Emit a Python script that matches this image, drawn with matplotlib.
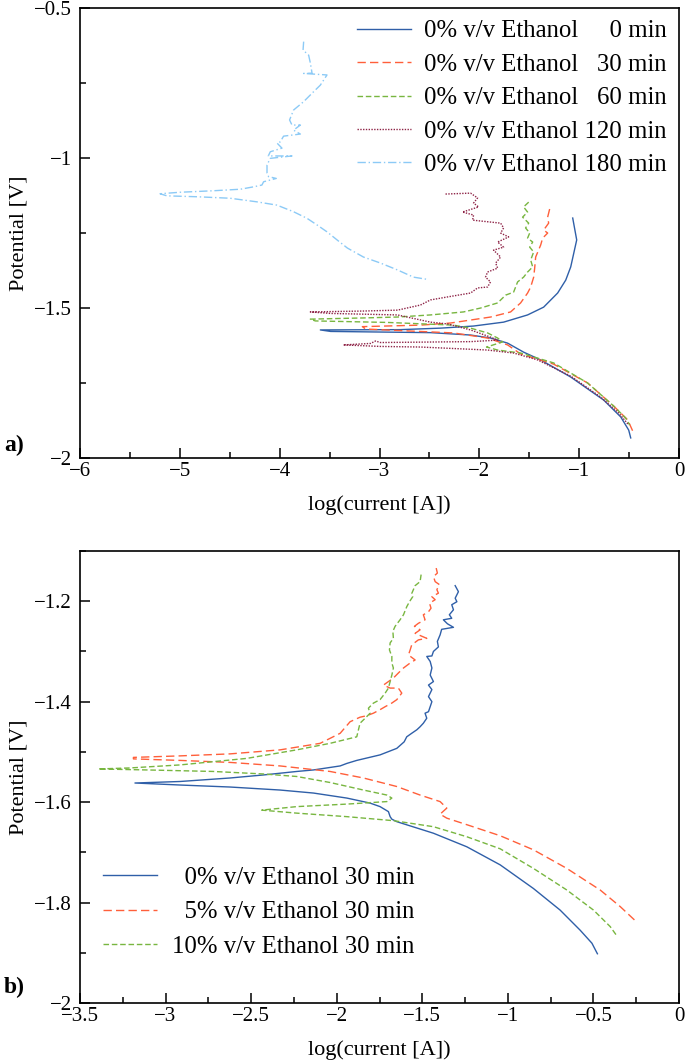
import numpy as np
import matplotlib
matplotlib.use("Agg")
import matplotlib.pyplot as plt
from matplotlib.ticker import MultipleLocator, FuncFormatter

plt.rcParams['font.family'] = ['Liberation Serif', 'DejaVu Serif']

# ---- panel a): 0% v/v ethanol, different immersion times ----
times_a = ['0', '30', '60', '120', '180']

x_a0 = [-1.065, -1.025, -1.085, -1.135, -1.216, -1.356, -1.517, -1.757, -2.058, -2.389, -2.79, -3.593,
        -3.49, -2.49, -2.088, -1.888, -1.717, -1.557, -1.386, -1.085, -0.754, -0.584, -0.504, -0.484]
y_a0 = [-1.200, -1.273, -1.363, -1.407, -1.450, -1.497, -1.523, -1.547, -1.560, -1.567, -1.572, -1.573,
        -1.578, -1.582, -1.590, -1.600, -1.617, -1.647, -1.673, -1.730, -1.807, -1.863, -1.907, -1.933]

x_a30 = [-1.296, -1.316, -1.306, -1.356, -1.316, -1.366, -1.386, -1.436, -1.446, -1.456, -1.486, -1.517,
         -1.587, -1.687, -1.888, -2.088, -2.289, -2.59, -3.172,
         -3.14, -2.259, -1.918, -1.717, -1.587, -1.256, -0.915, -0.654, -0.514, -0.464]
y_a30 = [-1.170, -1.197, -1.217, -1.240, -1.250, -1.267, -1.290, -1.330, -1.367, -1.397, -1.430, -1.450,
         -1.483, -1.513, -1.530, -1.540, -1.550, -1.557, -1.562,
         -1.570, -1.583, -1.600, -1.623, -1.653, -1.687, -1.750, -1.827, -1.873, -1.910]

x_a60 = [-1.506, -1.557, -1.517, -1.567, -1.506, -1.537, -1.496, -1.517, -1.466, -1.496, -1.456, -1.486,
         -1.466, -1.517, -1.557, -1.617, -1.657, -1.737, -1.817, -1.988, -2.159, -2.490, -2.820, -3.161, -3.693,
         -3.643, -2.921, -2.259, -2.088, -1.918, -1.817, -1.767, -1.928, -1.817, -1.587, -1.256, -0.915,
         -0.654, -0.534, -0.494]
y_a60 = [-1.147, -1.163, -1.180, -1.197, -1.217, -1.233, -1.250, -1.267, -1.280, -1.297, -1.313, -1.340,
         -1.363, -1.380, -1.397, -1.413, -1.447, -1.457, -1.483, -1.500, -1.513, -1.523, -1.530, -1.533, -1.537,
         -1.543, -1.548, -1.557, -1.567, -1.583, -1.600, -1.613, -1.630, -1.640, -1.650, -1.683, -1.750,
         -1.827, -1.867, -1.890]

x_a120 = [-2.339, -2.088, -2.018, -2.058, -2.008, -2.169, -2.058, -2.068, -1.787, -1.757, -1.787, -1.707,
          -1.817, -1.757, -1.858, -1.787, -1.837, -1.817, -1.918, -1.938, -1.888, -1.918, -2.018, -2.088,
          -2.319, -2.490, -2.590, -2.820, -3.161, -3.693,
          -3.49, -2.820, -2.490, -2.319, -2.088, -1.888, -1.817,
          -2.088, -2.99, -3.04, -3.09, -3.362,
          -2.99, -2.590, -1.918, -1.657, -1.416, -1.085, -0.784, -0.604, -0.504]
y_a120 = [-1.120, -1.117, -1.133, -1.150, -1.163, -1.180, -1.190, -1.207, -1.217, -1.233, -1.250, -1.263,
          -1.280, -1.297, -1.307, -1.330, -1.350, -1.367, -1.380, -1.397, -1.413, -1.430, -1.433, -1.450,
          -1.463, -1.473, -1.490, -1.507, -1.510, -1.513,
          -1.518, -1.523, -1.547, -1.553, -1.573, -1.597, -1.607,
          -1.612, -1.615, -1.610, -1.618, -1.623,
          -1.628, -1.630, -1.640, -1.650, -1.673, -1.727, -1.797, -1.850, -1.890]

x_a180 = [-3.760, -3.766, -3.710, -3.693, -3.676, -3.760, -3.526, -3.593, -3.676, -3.760, -3.861, -3.901,
          -3.877, -3.793, -3.861, -3.793, -3.961, -3.994, -4.027, -3.977, -4.094, -4.114, -3.877, -4.094,
          -4.127, -4.127, -4.111, -4.034, -4.161, -4.178, -4.262, -4.395, -4.663, -4.997, -5.198,
          -5.130, -4.830, -4.496, -4.228, -4.027, -3.861, -3.726, -3.626, -3.526, -3.425, -3.322, -3.161,
          -2.991, -2.820, -2.660, -2.510]
y_a180 = [-0.612, -0.640, -0.657, -0.683, -0.717, -0.718, -0.723, -0.757, -0.784, -0.812, -0.840, -0.873,
          -0.890, -0.890, -0.907, -0.920, -0.927, -0.946, -0.950, -0.967, -0.979, -0.993, -0.993, -1.001,
          -1.023, -1.050, -1.062, -1.068, -1.079, -1.090, -1.096, -1.104, -1.109, -1.114, -1.119,
          -1.126, -1.129, -1.134, -1.146, -1.157, -1.179, -1.201, -1.223, -1.246, -1.273, -1.300, -1.330,
          -1.350, -1.373, -1.397, -1.405]

# ---- panel b): 30 min, different ethanol contents ----
conc_b = ['0', '5', '10']

x_b0 = [-1.308, -1.289, -1.308, -1.298, -1.328, -1.318, -1.342, -1.328, -1.377, -1.353, -1.318, -1.387,
        -1.396, -1.412, -1.406, -1.435, -1.444, -1.474, -1.454, -1.444, -1.454, -1.435, -1.464, -1.444,
        -1.464, -1.444, -1.454, -1.464, -1.484, -1.474, -1.494, -1.513, -1.532, -1.562, -1.591, -1.606,
        -1.649, -1.747, -1.883, -1.941, -1.980, -2.136, -2.233, -2.429, -2.623, -2.916, -3.179,
        -2.916, -2.623, -2.331, -2.136, -1.941, -1.805, -1.747, -1.698, -1.688, -1.678, -1.649, -1.435,
        -1.240, -1.045, -0.851, -0.695, -0.578, -0.509, -0.477]
y_b0 = [-1.169, -1.181, -1.194, -1.201, -1.207, -1.217, -1.227, -1.234, -1.237, -1.245, -1.252, -1.256,
        -1.267, -1.280, -1.291, -1.300, -1.309, -1.310, -1.320, -1.333, -1.347, -1.360, -1.367, -1.376,
        -1.390, -1.400, -1.410, -1.420, -1.423, -1.433, -1.443, -1.450, -1.456, -1.463, -1.470, -1.480,
        -1.493, -1.506, -1.517, -1.523, -1.528, -1.536, -1.539, -1.546, -1.552, -1.559, -1.562,
        -1.566, -1.570, -1.576, -1.582, -1.592, -1.602, -1.609, -1.619, -1.629, -1.634, -1.639, -1.662,
        -1.689, -1.725, -1.772, -1.815, -1.855, -1.881, -1.902]

x_b5 = [-1.419, -1.412, -1.435, -1.425, -1.400, -1.415, -1.406, -1.444, -1.425, -1.458, -1.449, -1.464,
        -1.494, -1.484, -1.523, -1.546, -1.513, -1.542, -1.474, -1.523, -1.562, -1.571, -1.581, -1.542,
        -1.571, -1.610, -1.640, -1.669, -1.727, -1.688, -1.640, -1.620, -1.649, -1.679, -1.717, -1.747,
        -1.786, -1.825, -1.864, -1.922, -1.980, -2.097, -2.331, -2.623, -2.916, -3.188,
        -3.188, -2.916, -2.623, -2.331, -2.039, -1.844, -1.649, -1.513, -1.396, -1.357, -1.396, -1.357,
        -1.240, -1.045, -0.851, -0.656, -0.461, -0.344, -0.250]
y_b5 = [-1.134, -1.144, -1.151, -1.161, -1.167, -1.177, -1.184, -1.191, -1.197, -1.204, -1.214, -1.221,
        -1.227, -1.237, -1.244, -1.250, -1.257, -1.264, -1.274, -1.277, -1.287, -1.297, -1.307, -1.317,
        -1.323, -1.333, -1.343, -1.353, -1.367, -1.373, -1.373, -1.383, -1.396, -1.403, -1.410, -1.416,
        -1.423, -1.428, -1.431, -1.440, -1.463, -1.483, -1.496, -1.504, -1.508, -1.511,
        -1.514, -1.517, -1.521, -1.528, -1.539, -1.552, -1.569, -1.586, -1.599, -1.612, -1.624, -1.632,
        -1.645, -1.667, -1.695, -1.732, -1.775, -1.808, -1.838]

x_b10 = [-1.507, -1.513, -1.542, -1.561, -1.556, -1.575, -1.591, -1.610, -1.630, -1.659, -1.672, -1.669,
         -1.688, -1.692, -1.678, -1.678, -1.669, -1.678, -1.688, -1.698, -1.717, -1.747, -1.786, -1.815,
         -1.805, -1.834, -1.864, -1.883, -2.039, -2.234, -2.526, -2.916, -3.208, -3.393,
         -3.110, -2.721, -2.429, -2.234, -2.039, -1.844, -1.707, -1.678, -1.707, -1.941, -2.234, -2.438,
         -2.234, -1.941, -1.669, -1.435, -1.240, -1.045, -0.851, -0.656, -0.500, -0.402, -0.360]
y_b10 = [-1.147, -1.161, -1.169, -1.184, -1.191, -1.201, -1.211, -1.227, -1.237, -1.250, -1.260, -1.274,
         -1.283, -1.297, -1.310, -1.323, -1.333, -1.347, -1.360, -1.373, -1.383, -1.396, -1.403, -1.413,
         -1.423, -1.433, -1.443, -1.470, -1.483, -1.496, -1.513, -1.526, -1.532, -1.534,
         -1.536, -1.539, -1.544, -1.549, -1.561, -1.576, -1.586, -1.592, -1.599, -1.604, -1.609, -1.616,
         -1.622, -1.629, -1.637, -1.649, -1.669, -1.693, -1.732, -1.775, -1.815, -1.848, -1.868]

c_blue = '#2f5fa8'
c_orange = '#ff5f3a'
c_green = '#78b640'
c_maroon = '#8e2447'
c_light = '#8ccaf6'


def minus_fmt(v, pos):
    return ('%g' % round(v, 3)).replace('-', '\u2212')


def style_axes(ax, xmaj, xmin, ymaj, ymin):
    ax.xaxis.set_major_locator(MultipleLocator(xmaj))
    ax.xaxis.set_minor_locator(MultipleLocator(xmin))
    ax.yaxis.set_major_locator(MultipleLocator(ymaj))
    ax.yaxis.set_minor_locator(MultipleLocator(ymin))
    ax.xaxis.set_major_formatter(FuncFormatter(minus_fmt))
    ax.yaxis.set_major_formatter(FuncFormatter(minus_fmt))
    ax.tick_params(which='major', direction='in', length=7, width=1.1, labelsize=15)
    ax.tick_params(which='minor', direction='in', length=4, width=1.1)
    ax.tick_params(axis='x', which='major', pad=3)
    ax.tick_params(axis='y', which='major', pad=6)
    for s in ax.spines.values():
        s.set_linewidth(1.2)
    ax.set_xlabel('log(current [A])', fontsize=16, labelpad=10)
    ax.set_ylabel('Potential [V]', fontsize=16, labelpad=4)


fig = plt.figure(figsize=(6.85, 10.6), dpi=100)
ax1 = fig.add_axes([0.1168, 0.5679, 0.8745, 0.4245])
ax2 = fig.add_axes([0.1168, 0.0538, 0.8745, 0.4264])

lw = 1.0
lab_a = ['0% v/v Ethanol     ' + times_a[0] + ' min',
         '0% v/v Ethanol   ' + times_a[1] + ' min',
         '0% v/v Ethanol   ' + times_a[2] + ' min',
         '0% v/v Ethanol ' + times_a[3] + ' min',
         '0% v/v Ethanol ' + times_a[4] + ' min']
ax1.plot(x_a0, y_a0, color=c_blue, lw=lw, label=lab_a[0])
ax1.plot(x_a30, y_a30, color=c_orange, lw=lw, ls=(0, (6, 3)), label=lab_a[1])
ax1.plot(x_a60, y_a60, color=c_green, lw=lw, ls=(0, (4, 2)), label=lab_a[2])
ax1.plot(x_a120, y_a120, color=c_maroon, lw=lw, ls=(0, (1, 1)), label=lab_a[3])
ax1.plot(x_a180, y_a180, color=c_light, lw=lw, ls=(0, (6, 2, 1, 2)), label=lab_a[4])
ax1.set_xlim(-6, 0)
ax1.set_ylim(-2, -0.5)
style_axes(ax1, 1, 0.5, 0.5, 0.25)
ax1.legend(loc='center right', bbox_to_anchor=(0.98, 0.8), frameon=False, fontsize=17.8,
           handlelength=2.2, labelspacing=0.45, borderpad=0, borderaxespad=0, handletextpad=0.53)

lab_b = ['  ' + conc_b[0] + '% v/v Ethanol 30 min',
         '  ' + conc_b[1] + '% v/v Ethanol 30 min',
         conc_b[2] + '% v/v Ethanol 30 min']
ax2.plot(x_b0, y_b0, color=c_blue, lw=lw, label=lab_b[0])
ax2.plot(x_b5, y_b5, color=c_orange, lw=lw, ls=(0, (6, 3)), label=lab_b[1])
ax2.plot(x_b10, y_b10, color=c_green, lw=lw, ls=(0, (4, 2)), label=lab_b[2])
ax2.set_xlim(-3.5, 0)
ax2.set_ylim(-2, -1.1)
style_axes(ax2, 0.5, 0.25, 0.2, 0.1)
ax2.legend(loc='center left', bbox_to_anchor=(0.0384, 0.201), frameon=False, fontsize=17.8,
           handlelength=2.2, labelspacing=0.5, borderpad=0, borderaxespad=0, handletextpad=0.6)

fig.text(0.006, 0.5802, 'a)', fontsize=17, fontweight='bold', va='center')
fig.text(0.006, 0.0689, 'b)', fontsize=17, fontweight='bold', va='center')

fig.savefig('out.png', dpi=100)
